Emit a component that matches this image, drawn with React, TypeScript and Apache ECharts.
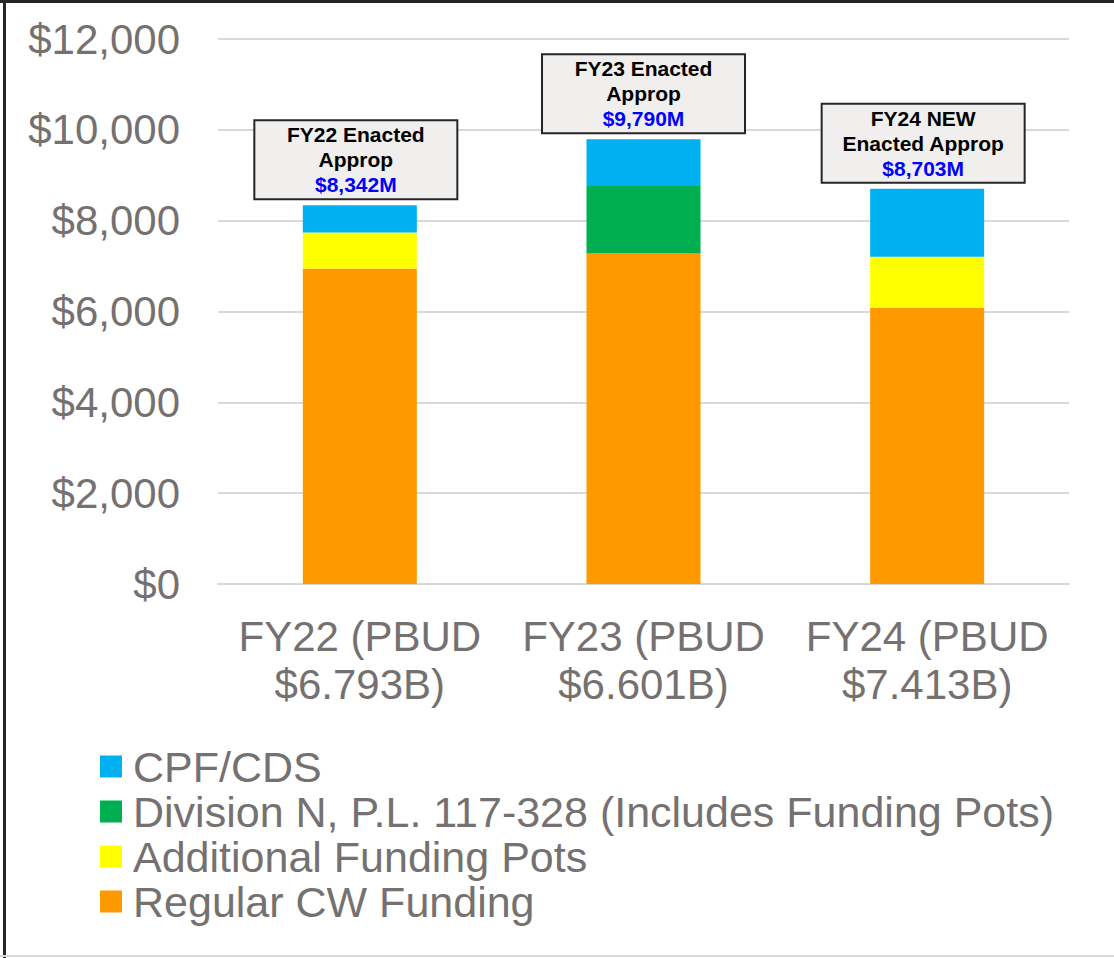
import React, { useEffect, useRef } from "react";
import * as echarts from "echarts";

const categories = ["FY22 (PBUD\n$6.793B)", "FY23 (PBUD\n$6.601B)", "FY24 (PBUD\n$7.413B)"];
const regularCW = [6945, 7275, 6085];
const additionalPots = [795, null, 1120];
const divisionN = [null, 1490, null];
const cpfCds = [602, 1025, 1498];
const annotTitles = ["FY22 Enacted\nApprop", "FY23 Enacted\nApprop", "FY24 NEW\nEnacted Approp"];
const yTicks = { min: 0, max: 12000, interval: 2000 };

const FONT = "'Liberation Sans', Arial, sans-serif";
const GRAY = "#767171";

export default function App() {
  const ref = useRef<HTMLDivElement>(null);
  useEffect(() => {
    if (!ref.current) return;
    const chart = echarts.init(ref.current, undefined, { renderer: "svg" });
    const totals = categories.map(
      (_, i) => (regularCW[i] || 0) + (additionalPots[i] || 0) + (divisionN[i] || 0) + (cpfCds[i] || 0)
    );
    const labelOffsets = [[-4, 0], [0, 0], [-4, 0]];
    const option: any = {
      animation: false,
      backgroundColor: "#ffffff",
      textStyle: { fontFamily: FONT },
      grid: { left: 218, right: 45, top: 39, bottom: 374 },
      legend: {
        orient: "vertical",
        left: 100,
        top: 744,
        padding: 0,
        itemWidth: 22,
        itemHeight: 22,
        itemGap: 0,
        icon: "rect",
        data: ["CPF/CDS", "Division N, P.L. 117-328 (Includes Funding Pots)", "Additional Funding Pots", "Regular CW Funding"],
        textStyle: { fontSize: 43, color: GRAY, fontFamily: FONT, lineHeight: 45, padding: [0, 0, 0, 6] },
      },
      xAxis: {
        type: "category",
        data: categories,
        axisTick: { show: false },
        axisLine: { lineStyle: { color: "#d9d9d9", width: 2 } },
        axisLabel: { interval: 0, hideOverlap: false, fontSize: 42, lineHeight: 48, color: GRAY, margin: 28, fontFamily: FONT },
      },
      yAxis: {
        type: "value",
        min: yTicks.min,
        max: yTicks.max,
        interval: yTicks.interval,
        axisLabel: {
          fontSize: 42,
          color: GRAY,
          margin: 38,
          fontFamily: FONT,
          formatter: (v: number) => "$" + v.toLocaleString("en-US"),
        },
        splitLine: { lineStyle: { color: "#d9d9d9", width: 2 } },
      },
      series: [
        { name: "Regular CW Funding", type: "bar", stack: "t", barWidth: 114, data: regularCW, itemStyle: { color: "#ff9900" } },
        { name: "Additional Funding Pots", type: "bar", stack: "t", data: additionalPots.map((v) => (v == null ? "-" : v)), itemStyle: { color: "#ffff00" } },
        { name: "Division N, P.L. 117-328 (Includes Funding Pots)", type: "bar", stack: "t", data: divisionN.map((v) => (v == null ? "-" : v)), itemStyle: { color: "#00b050" } },
        {
          name: "CPF/CDS",
          type: "bar",
          stack: "t",
          itemStyle: { color: "#00b0f0" },
          data: cpfCds.map((v, i) => ({
            value: v,
            label: {
              show: true,
              position: "top",
              distance: 7,
              offset: labelOffsets[i],
              formatter: () =>
                annotTitles[i].split("\n").map((s) => `{t|${s}}`).join("\n") +
                `\n{v|$${totals[i].toLocaleString("en-US")}M}`,
              backgroundColor: "#f0efed",
              borderColor: "#262626",
              borderWidth: 2,
              padding: [1, 0, 1, 0],
              width: 201,
              align: "center",
              rich: {
                t: { fontSize: 21, fontWeight: "bold", color: "#000000", lineHeight: 25, fontFamily: FONT, width: 201, align: "center" },
                v: { fontSize: 21, fontWeight: "bold", color: "#0000ff", lineHeight: 25, fontFamily: FONT, width: 201, align: "center" },
              },
            },
          })),
        },
      ],
      graphic: [
        { type: "rect", left: 0, top: 0, shape: { width: 1114, height: 3 }, style: { fill: "#262626" } },
        { type: "rect", left: 3, top: 0, shape: { width: 3, height: 958 }, style: { fill: "#262626" } },
        { type: "rect", left: 0, top: 955, shape: { width: 1114, height: 2 }, style: { fill: "#d9d9d9" } },
      ],
    };
    chart.setOption(option);
    return () => chart.dispose();
  }, []);
  return (
    <div
      ref={ref}
      style={{ position: "absolute", left: 0, top: 0, width: 1114, height: 958, background: "#fff" }}
    />
  );
}
